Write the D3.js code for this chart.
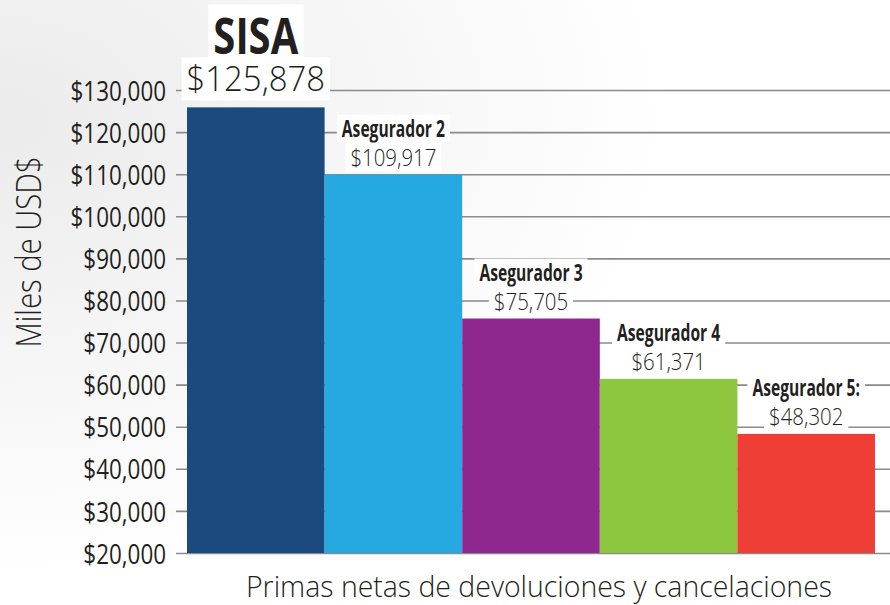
<!DOCTYPE html>
<html>
<head>
<meta charset="utf-8">
<script src="https://cdn.jsdelivr.net/npm/d3@7"></script>
<style>
  body { margin: 0; background: #fff; }
  svg { display: block; }
</style>
</head>
<body>
<script>
// data
const insurers = ['SISA', 'Asegurador 2', 'Asegurador 3', 'Asegurador 4', 'Asegurador 5:']
const premiums = [125878, 109917, 75705, 61371, 48302]
const barColors = ['#1a4a7e', '#25a9e0', '#8e278f', '#8dc63f', '#ef3e36']
const yTickValues = [20000, 30000, 40000, 50000, 60000, 70000, 80000, 90000, 100000, 110000, 120000, 130000]
const yTitle = 'Miles de USD$'
const xTitle = 'Primas netas de devoluciones y cancelaciones'

const w = 890
const h = 605
const font = '"Open Sans", "DejaVu Sans", sans-serif'
const ink = '#231f20'
const money = d => '$' + d3.format(',')(d)

// squeeze a text horizontally, the picture uses a condensed face
const squeeze = (sel, sx) => {
  sel.each(function () {
    const len = this.getComputedTextLength()
    d3.select(this)
      .attr('textLength', len * sx)
      .attr('lengthAdjust', 'spacingAndGlyphs')
  })
}

const svg = d3.select('body').append('svg')
  .attr('width', w)
  .attr('height', h)

// soft grey wash in the top-left corner
const grad = svg.append('defs').append('radialGradient')
  .attr('id', 'bg')
  .attr('cx', '0%').attr('cy', '20%').attr('r', '75%')
grad.append('stop').attr('offset', '0%').attr('stop-color', '#ebebeb')
grad.append('stop').attr('offset', '100%').attr('stop-color', '#ffffff')
svg.append('rect').attr('width', w).attr('height', h).attr('fill', 'url(#bg)')

const x = d3.scaleBand()
  .domain(insurers)
  .range([187, 875])
  .padding(0)

const y = d3.scaleLinear()
  .domain([20000, 130000])
  .range([553, 90])

// y axis with gridlines running across the whole width
const yAxis = svg.append('g')
  .attr('transform', 'translate(187,0)')
  .call(d3.axisLeft(y)
    .tickValues(yTickValues)
    .tickFormat(money)
    .tickSize(11)
    .tickPadding(10))
yAxis.select('.domain').remove()
yAxis.selectAll('.tick line')
  .attr('x1', -11)
  .attr('x2', w - 187)
  .attr('stroke', '#8a8a8a')
  .attr('stroke-width', 1.6)
yAxis.selectAll('.tick text')
  .attr('fill', ink)
  .attr('font-family', null)
  .attr('font-size', null)
  .style('font-family', font)
  .style('font-size', '28px')
  .style('font-weight', 400)
  .attr('dy', '0.36em')
  .call(squeeze, 0.8)

const labels = svg.append('g')

// bars
svg.append('g').selectAll('rect')
  .data(insurers)
  .enter().append('rect')
  .attr('x', d => x(d))
  .attr('width', x.bandwidth())
  .attr('y', (d, i) => y(premiums[i]))
  .attr('height', (d, i) => y(20000) - y(premiums[i]))
  .attr('fill', (d, i) => barColors[i])

// name + value above each bar, with a white box that cuts the gridlines
const addLabel = (txt, cx, base, size, weight, sx) => {
  const g = labels.append('g')
  const t = g.append('text')
    .attr('x', cx)
    .attr('y', base)
    .attr('text-anchor', 'middle')
    .attr('fill', ink)
    .style('font-family', font)
    .style('font-size', size + 'px')
    .style('font-weight', weight)
    .text(txt)
    .call(squeeze, sx)
  const bb = t.node().getBBox()
  g.insert('rect', 'text')
    .attr('x', bb.x - 5)
    .attr('y', bb.y + 3)
    .attr('width', bb.width + 10)
    .attr('height', bb.height - 4)
    .attr('fill', '#fff')
}

insurers.forEach((d, i) => {
  const cx = x(d) + x.bandwidth() / 2
  const top = y(premiums[i])
  if (i === 0) {
    addLabel(d, cx, top - 53, 50, 'bold', 0.8)
    addLabel(money(premiums[i]), cx, top - 16, 35, 300, 0.94)
  } else {
    addLabel(d, cx, top - 38, 23, 'bold', 0.68)
    addLabel(money(premiums[i]), cx, top - 9, 24, 300, 0.85)
  }
})

// axis titles
svg.append('text')
  .attr('transform', 'translate(41,252) rotate(-90)')
  .attr('text-anchor', 'middle')
  .attr('fill', ink)
  .style('font-family', font)
  .style('font-size', '34px')
  .style('font-weight', 300)
  .text(yTitle)
  .call(squeeze, 0.86)

svg.append('text')
  .attr('x', 539)
  .attr('y', 597)
  .attr('text-anchor', 'middle')
  .attr('fill', ink)
  .style('font-family', font)
  .style('font-size', '29px')
  .style('font-weight', 300)
  .text(xTitle)
  .call(squeeze, 0.98)
</script>
</body>
</html>
